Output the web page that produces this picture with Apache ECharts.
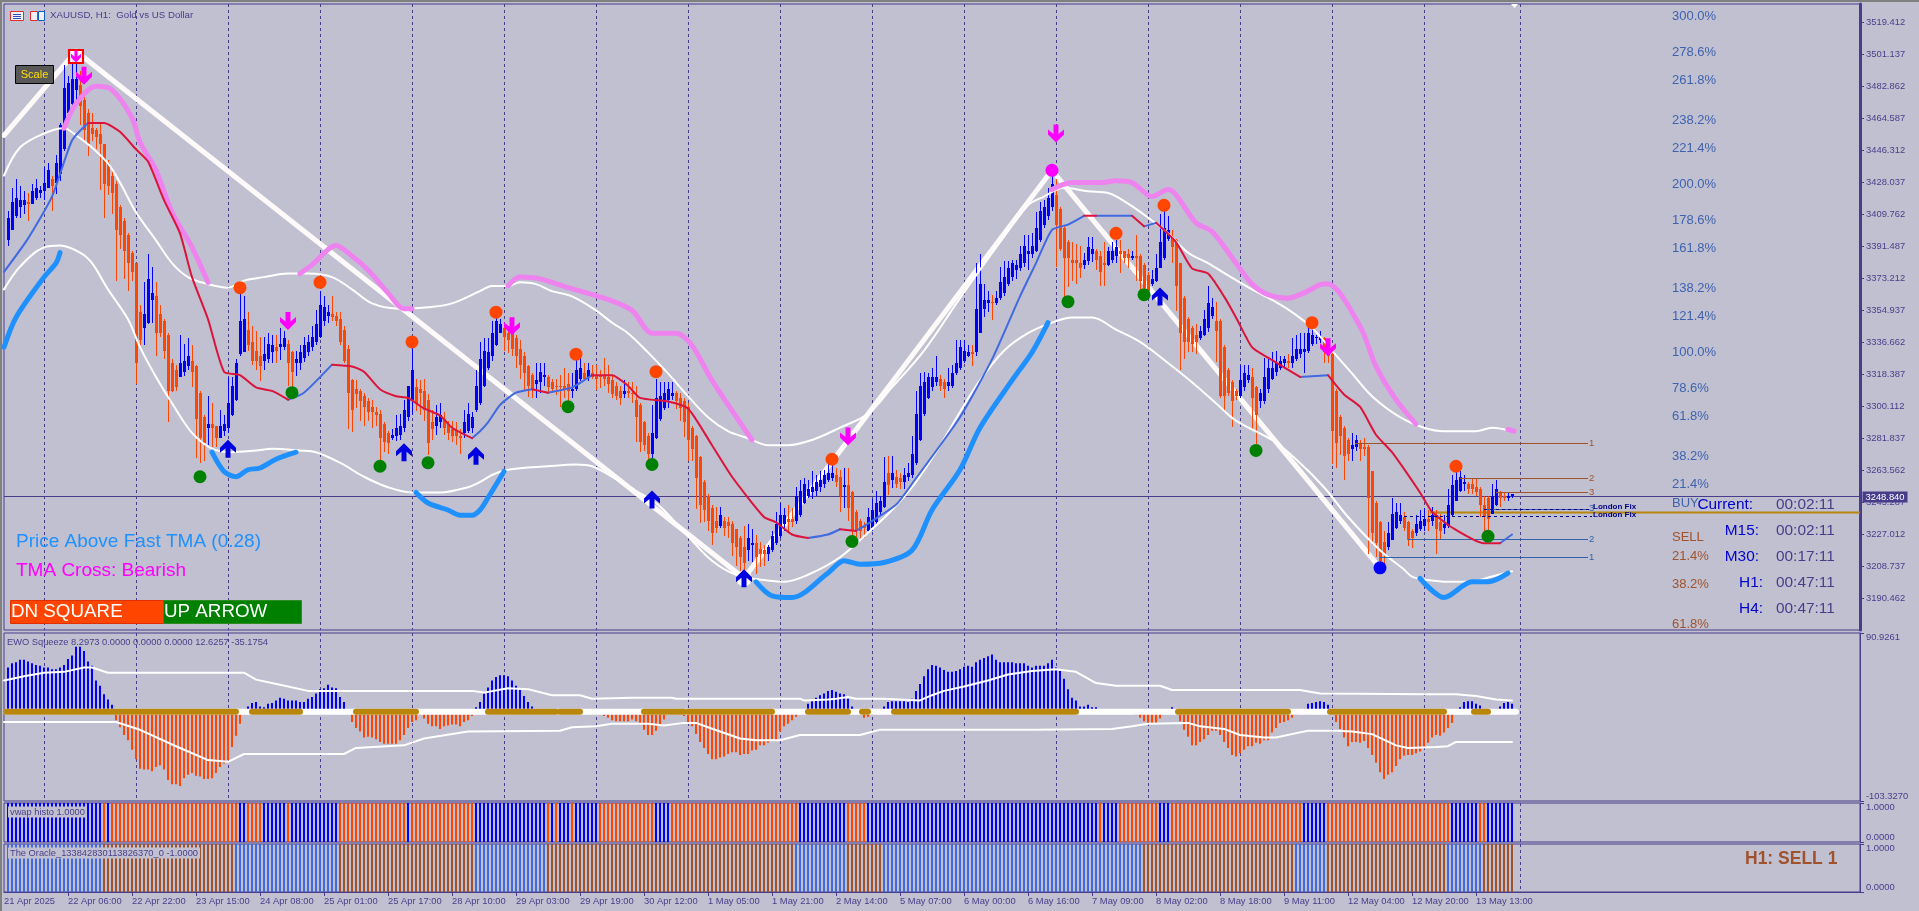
<!DOCTYPE html>
<html><head><meta charset="utf-8"><title>XAUUSD H1</title>
<style>html,body{margin:0;padding:0;background:#C0C0D0;overflow:hidden}#c{width:1919px;height:911px}</style>
<script src="https://cdn.jsdelivr.net/npm/echarts@6/dist/echarts.min.js"></script></head>
<body><div id="c"></div><script>
const timeLabels=['21 Apr 2025','22 Apr 06:00','22 Apr 22:00','23 Apr 15:00','24 Apr 08:00','25 Apr 01:00','25 Apr 17:00','28 Apr 10:00','29 Apr 03:00','29 Apr 19:00','30 Apr 12:00','1 May 05:00','1 May 21:00','2 May 14:00','5 May 07:00','6 May 00:00','6 May 16:00','7 May 09:00','8 May 02:00','8 May 18:00','9 May 11:00','12 May 04:00','12 May 20:00','13 May 13:00'];
const priceTicks=[3519.412,3501.137,3482.862,3464.587,3446.312,3428.037,3409.762,3391.487,3373.212,3354.937,3336.662,3318.387,3300.112,3281.837,3263.562,3245.287,3227.012,3208.737,3190.462];
const periodBars=[10,33,56,79,102,125,148,171,194,217,240,263,286,309,332,355,379];
const opens=[3395,3401,3409,3414,3415,3417,3416,3419,3422,3423,
3425,3430,3428,3433,3447,3468,3473,3481,3484,3475,
3468,3459,3458,3456,3450,3439,3432,3427,3414,3406,
3398,3388,3382,3354,3345,3348,3361,3363,3353,3349,
3341,3325,3321,3317,3320,3323,3326,3323,3308,3294,
3288,3290,3289,3282,3286,3288,3295,3304,3330,3331,
3344,3337,3332,3329,3326,3327,3331,3334,3334,3334,
3336,3331,3325,3325,3328,3331,3334,3337,3340,3349,
3352,3353,3352,3350,3344,3333,3315,3310,3309,3306,
3303,3300,3297,3296,3290,3285,3282,3283,3284,3288,
3294,3304,3311,3310,3309,3304,3291,3289,3291,3293,
3290,3287,3286,3283,3285,3286,3288,3298,3302,3312,
3322,3329,3335,3342,3345,3342,3342,3339,3333,3329,
3323,3318,3313,3314,3317,3317,3314,3312,3312,3312,
3313,3309,3310,3316,3319,3317,3319,3318,3318,3318,
3317,3315,3312,3309,3307,3309,3308,3304,3301,3291,
3283,3273,3282,3293,3299,3304,3306,3308,3305,3303,
3300,3288,3283,3271,3257,3249,3242,3235,3232,3235,
3234,3233,3230,3225,3220,3218,3221,3222,3219,3218,
3216,3218,3222,3226,3233,3236,3236,3235,3238,3245,
3249,3251,3252,3254,3256,3258,3259,3261,3260,3254,
3255,3251,3240,3235,3232,3229,3231,3234,3240,3243,
3262,3258,3260,3259,3257,3260,3261,3268,3281,3296,
3305,3311,3314,3316,3314,3312,3312,3319,3322,3326,
3329,3331,3331,3342,3356,3359,3360,3359,3362,3365,
3370,3374,3378,3379,3382,3387,3387,3389,3395,3404,
3409,3414,3421,3413,3402,3394,3384,3384,3382,3381,
3383,3387,3389,3386,3382,3381,3384,3386,3389,3389,
3387,3385,3386,3386,3381,3375,3370,3372,3379,3385,
3396,3397,3395,3382,3362,3350,3345,3341,3339,3341,
3345,3352,3349,3349,3334,3321,3314,3309,3306,3311,
3315,3317,3311,3303,3303,3310,3316,3320,3322,3325,
3326,3325,3327,3330,3331,3332,3336,3339,3338,3339,
3334,3330,3309,3294,3288,3281,3276,3277,3279,3277,
3277,3263,3245,3234,3223,3220,3224,3231,3235,3237,
3234,3229,3228,3230,3232,3236,3235,3238,3234,3231,
3232,3238,3246,3252,3256,3256,3256,3254,3253,3244,
3248,3239,3244,3251,3249,3248,3249];
const highs=[3412,3425,3430,3426,3423,3422,3427,3430,3426,3437,
3439,3432,3444,3462,3495,3489,3500,3501,3492,3481,
3470,3468,3459,3462,3450,3441,3435,3429,3415,3408,
3399,3389,3382,3358,3371,3387,3380,3371,3358,3350,
3342,3327,3324,3341,3336,3339,3335,3324,3309,3295,
3306,3302,3289,3298,3295,3317,3317,3327,3365,3363,
3354,3346,3343,3340,3340,3342,3341,3341,3345,3343,
3338,3332,3332,3335,3340,3341,3346,3355,3366,3363,
3358,3363,3354,3354,3346,3335,3316,3315,3310,3308,
3305,3304,3300,3298,3291,3286,3287,3295,3296,3304,
3312,3335,3316,3315,3316,3307,3298,3301,3302,3297,
3292,3292,3291,3287,3298,3302,3297,3321,3337,3339,
3339,3349,3353,3350,3348,3345,3343,3341,3338,3331,
3324,3319,3325,3325,3325,3318,3316,3316,3318,3322,
3319,3319,3328,3328,3325,3325,3324,3324,3321,3328,
3324,3318,3314,3312,3315,3314,3314,3312,3302,3292,
3285,3301,3316,3314,3314,3314,3314,3309,3308,3305,
3302,3289,3284,3272,3258,3250,3244,3243,3243,3237,
3237,3235,3230,3226,3232,3233,3230,3227,3223,3221,
3221,3229,3240,3245,3242,3244,3242,3254,3258,3259,
3258,3263,3261,3263,3264,3267,3268,3265,3264,3265,
3265,3252,3241,3236,3234,3242,3247,3252,3249,3271,
3272,3272,3264,3262,3265,3268,3283,3309,3319,3320,
3319,3322,3329,3318,3316,3322,3324,3338,3338,3338,
3335,3335,3382,3387,3370,3366,3364,3366,3380,3383,
3383,3384,3384,3392,3398,3398,3399,3411,3417,3418,
3425,3432,3430,3414,3403,3395,3394,3393,3392,3388,
3397,3397,3390,3389,3394,3391,3394,3395,3395,3389,
3390,3389,3398,3387,3382,3377,3378,3387,3410,3412,
3409,3401,3396,3382,3363,3351,3346,3347,3346,3355,
3369,3362,3360,3350,3335,3322,3315,3310,3324,3324,
3324,3322,3312,3310,3328,3328,3331,3332,3329,3329,
3330,3339,3341,3342,3342,3345,3345,3341,3343,3340,
3335,3331,3310,3295,3289,3282,3285,3284,3281,3282,
3278,3263,3246,3235,3229,3234,3248,3245,3245,3240,
3235,3230,3238,3241,3242,3241,3243,3241,3239,3238,
3253,3261,3265,3263,3261,3257,3259,3259,3254,3249,
3249,3256,3258,3252,3251,3251,3250];
const lows=[3392,3401,3408,3408,3410,3406,3416,3418,3419,3418,
3425,3412,3422,3429,3446,3466,3472,3475,3461,3452,
3443,3452,3447,3424,3408,3421,3410,3372,3390,3373,
3366,3372,3313,3335,3335,3347,3348,3329,3340,3327,
3291,3308,3309,3317,3318,3321,3311,3271,3268,3269,
3278,3277,3277,3282,3283,3285,3295,3303,3329,3331,
3332,3324,3321,3315,3321,3325,3325,3325,3327,3332,
3312,3309,3318,3321,3326,3329,3332,3335,3339,3346,
3348,3349,3346,3335,3325,3287,3286,3299,3292,3289,
3292,3288,3289,3268,3274,3273,3281,3280,3281,3286,
3292,3295,3298,3295,3292,3272,3281,3284,3288,3284,
3281,3280,3278,3273,3282,3285,3285,3297,3301,3311,
3321,3326,3335,3342,3332,3331,3329,3322,3316,3309,
3306,3305,3305,3308,3312,3308,3308,3307,3300,3305,
3302,3305,3309,3315,3315,3315,3316,3310,3311,3312,
3308,3305,3304,3301,3305,3305,3302,3280,3274,3275,
3269,3271,3282,3292,3298,3299,3304,3299,3292,3283,
3269,3269,3242,3234,3234,3229,3221,3228,3231,3226,
3225,3215,3209,3205,3205,3212,3211,3205,3209,3209,
3212,3217,3221,3225,3229,3228,3231,3233,3237,3244,
3248,3247,3249,3251,3254,3257,3258,3254,3240,3242,
3235,3224,3224,3224,3225,3228,3229,3232,3238,3242,
3250,3254,3254,3253,3253,3258,3259,3267,3280,3295,
3304,3309,3312,3309,3305,3309,3311,3318,3321,3325,
3328,3323,3329,3342,3351,3354,3350,3358,3361,3363,
3369,3372,3373,3378,3380,3378,3385,3388,3394,3402,
3407,3412,3380,3389,3362,3368,3372,3370,3374,3379,
3381,3383,3378,3369,3369,3380,3382,3382,3376,3382,
3379,3384,3372,3366,3366,3365,3369,3371,3379,3384,
3395,3382,3355,3321,3327,3331,3331,3330,3338,3340,
3343,3350,3326,3305,3298,3306,3288,3304,3305,3309,
3314,3287,3279,3299,3302,3308,3315,3318,3321,3322,
3322,3322,3326,3328,3319,3331,3335,3336,3336,3325,
3325,3267,3265,3272,3258,3269,3269,3275,3269,3272,
3216,3221,3214,3209,3210,3218,3224,3230,3233,3229,
3221,3219,3226,3229,3229,3229,3232,3216,3224,3227,
3231,3237,3246,3251,3252,3250,3250,3249,3237,3226,
3225,3239,3243,3243,3246,3246,3248];
const closes=[3408,3417,3419,3418,3418,3416,3423,3425,3424,3428,
3435,3426,3439,3461,3482,3485,3487,3487,3472,3458,
3450,3456,3454,3450,3427,3426,3422,3401,3398,3389,
3382,3377,3325,3338,3353,3373,3365,3342,3342,3332,
3309,3309,3311,3325,3326,3329,3320,3293,3282,3279,
3290,3288,3282,3289,3290,3302,3312,3325,3349,3350,
3335,3326,3326,3323,3330,3336,3335,3332,3336,3339,
3325,3320,3327,3331,3335,3337,3340,3347,3358,3357,
3354,3351,3349,3337,3326,3308,3298,3307,3303,3300,
3297,3297,3295,3282,3280,3279,3284,3288,3289,3298,
3312,3321,3302,3308,3298,3279,3287,3294,3295,3288,
3285,3283,3283,3282,3291,3296,3294,3312,3327,3332,
3331,3342,3349,3347,3340,3338,3333,3329,3324,3319,
3312,3310,3315,3320,3318,3311,3310,3311,3311,3310,
3309,3310,3321,3322,3316,3321,3317,3316,3317,3316,
3313,3307,3306,3305,3309,3308,3307,3294,3280,3278,
3273,3285,3305,3306,3308,3310,3308,3303,3299,3291,
3281,3276,3259,3244,3241,3235,3228,3231,3238,3231,
3232,3222,3220,3214,3211,3225,3222,3214,3216,3216,
3220,3226,3233,3238,3238,3234,3234,3249,3252,3256,
3253,3254,3257,3258,3261,3262,3262,3257,3249,3255,
3242,3229,3229,3229,3231,3237,3241,3245,3246,3257,
3255,3262,3256,3257,3261,3262,3273,3296,3312,3314,
3317,3317,3317,3312,3310,3314,3319,3325,3334,3332,
3331,3330,3356,3370,3361,3361,3359,3362,3371,3374,
3379,3382,3381,3387,3392,3389,3392,3402,3412,3414,
3419,3427,3404,3390,3385,3385,3382,3382,3379,3384,
3391,3390,3384,3377,3381,3389,3389,3391,3387,3385,
3385,3386,3385,3372,3368,3366,3373,3379,3394,3402,
3401,3391,3369,3342,3337,3337,3336,3337,3343,3350,
3359,3357,3343,3306,3306,3308,3303,3306,3315,3319,
3318,3305,3295,3308,3317,3322,3322,3325,3326,3327,
3325,3329,3333,3333,3333,3342,3341,3340,3340,3331,
3329,3286,3279,3283,3272,3273,3278,3281,3276,3276,
3248,3228,3222,3212,3216,3228,3239,3240,3238,3231,
3224,3225,3233,3235,3236,3234,3238,3230,3229,3233,
3244,3255,3258,3260,3257,3253,3253,3251,3244,3237,
3236,3249,3253,3248,3248,3249,3250];
const zigzag=[[0,3455],[18,3503],[185,3202],[262,3435],[344,3208]];
const upperBand=[[0,3432],[4,3448],[10,3456],[15,3459],[18,3455],[22,3448],[26,3439],[29,3428],[33,3411],[38,3395],[42,3382],[46,3374],[51,3370],[56,3368],[60,3372],[65,3374],[71,3376],[76,3376],[82,3374],[87,3367],[92,3359],[99,3356],[107,3357],[112,3359],[119,3366],[122,3369],[126,3369],[129,3371],[133,3370],[137,3366],[142,3363],[148,3355],[152,3348],[156,3342],[161,3331],[166,3319],[171,3306],[176,3294],[181,3286],[186,3282],[191,3278],[196,3278],[202,3281],[209,3288],[216,3296],[222,3311],[230,3332],[239,3362],[249,3394],[256,3415],[260,3420],[265,3425],[271,3423],[276,3422],[281,3416],[286,3408],[291,3399],[296,3388],[301,3382],[306,3375],[312,3367],[317,3361],[322,3354],[327,3345],[332,3332],[337,3319],[342,3306],[349,3294],[355,3288],[360,3286],[368,3286],[372,3288],[377,3286]];
const lowerBand=[[0,3367],[4,3380],[10,3391],[14,3392],[19,3388],[22,3382],[26,3367],[31,3350],[34,3334],[38,3317],[42,3302],[47,3285],[52,3276],[57,3274],[63,3275],[67,3276],[74,3275],[78,3274],[84,3268],[90,3260],[96,3254],[102,3251],[109,3251],[116,3254],[119,3257],[122,3261],[126,3264],[136,3266],[143,3267],[147,3266],[152,3260],[158,3252],[164,3243],[171,3226],[177,3212],[183,3204],[190,3201],[195,3200],[201,3204],[209,3214],[216,3228],[222,3241],[227,3254],[233,3274],[239,3297],[244,3315],[250,3332],[256,3342],[262,3348],[267,3351],[272,3351],[278,3344],[284,3337],[291,3325],[297,3314],[303,3302],[308,3292],[317,3281],[323,3270],[330,3254],[336,3237],[344,3218],[350,3207],[352,3203],[356,3201],[361,3200],[366,3200],[372,3203],[377,3206]];
const bearishEnvelope=[
[[15,3459],[18,3473],[23,3483],[27,3481],[32,3465],[34,3451],[38,3435],[42,3411],[47,3391],[51,3371]],
[[74,3376],[77,3381],[83,3392],[87,3386],[91,3378],[96,3365],[100,3356],[102,3356]],
[[126,3369],[129,3374],[134,3373],[141,3368],[150,3362],[157,3355],[162,3342],[168,3342],[172,3335],[177,3315],[187,3281]],
[[262,3424],[267,3428],[274,3428],[278,3429],[282,3428],[287,3420],[291,3424],[293,3421],[298,3405],[302,3400],[308,3382],[312,3370],[316,3364],[321,3362],[325,3365],[330,3370],[331,3370],[339,3346],[343,3323],[348,3304],[353,3290]],
[[376,3287],[377.5,3286]]];
const bullishEnvelope=[
[[0,3334],[3,3351],[10,3374],[13,3382],[14,3388]],
[[52,3274],[55,3263],[58,3260],[61,3264],[64,3265],[68,3270],[73,3274]],
[[103,3251],[106,3245],[111,3241],[114,3238],[117,3238],[119,3241],[121,3248],[125,3263]],
[[188,3200],[192,3192],[197,3191],[206,3205],[210,3212],[214,3210],[220,3211],[227,3218],[232,3241],[239,3264],[244,3288],[252,3315],[257,3331],[261,3348]],
[[354,3202],[360,3191],[367,3200],[371,3200],[376,3205]]];
const fastUp=[
[[0,3377],[6,3396],[12,3420],[17,3452],[21,3462]],
[[71,3304],[75,3308],[82,3324]],
[[117,3282],[119,3286],[121,3291],[124,3301],[128,3308],[132,3310]],
[[136,3308],[142,3311],[147,3318]],
[[201,3225],[206,3227],[209,3230]],
[[213,3229],[223,3244],[227,3256],[239,3294],[247,3327],[254,3363],[258,3382],[262,3401],[266,3404],[270,3409]],
[[273,3409],[282,3409]],
[[285,3403],[288,3405]],
[[324,3317],[331,3318]],
[[374,3222],[377,3227]]];
const fastDown=[
[[21,3462],[25,3462],[29,3457],[33,3447],[36,3440],[40,3418],[44,3399],[47,3374],[51,3350],[55,3320],[59,3318],[63,3311],[67,3309],[71,3304]],
[[82,3324],[87,3323],[90,3320],[94,3310],[98,3306],[101,3305],[105,3299],[109,3295],[112,3288],[117,3282]],
[[132,3310],[136,3308]],
[[147,3318],[152,3318],[156,3312],[159,3305],[166,3303],[171,3299],[177,3278],[182,3260],[190,3237],[193,3234],[197,3227],[201,3225]],
[[209,3230],[213,3229]],
[[270,3409],[273,3409]],
[[282,3409],[285,3403]],
[[288,3405],[293,3394],[297,3379],[301,3376],[305,3363],[308,3351],[312,3334],[316,3328],[324,3317]],
[[331,3318],[335,3307],[339,3300],[343,3284],[347,3274],[354,3251],[357,3240],[362,3231],[370,3222],[374,3222]]];
const orangeDots=[[59,3368],[79,3371],[102,3337],[123,3354],[143,3330],[163,3320],[207,3270],[278,3399],[290,3415],[327,3348],[363,3266]];
const greenDots=[[49,3260],[72,3308],[94,3266],[106,3268],[141,3300],[162,3267],[212,3223],[266,3360],[285,3364],[313,3275],[371,3226]];
const magentaDots=[[262,3435]];
const blueDots=[[344,3208]];
const whiteDots=[[185,3202]];
const sellArrows=[[20,3489],[71,3349],[127,3346],[211,3283],[263,3456],[331,3334]];
const buyArrows=[[56,3276],[100,3274],[118,3272],[162,3247],[185,3202],[289,3363]];
const signalSquare=[[18,3500]];
const currentPrice=3248.84;
const goldLevel=[[356.5,464,3240]];
const priceLine=[[0,464,currentPrice]];
const resistanceLevels=[[337.75,396,3279],[364,396,3259],[373,396,3251]];
const supportLevels=[[344,396,3214],[351,396,3224.5],[370,396,3241.5]];
const londonFix=[[370,397,3241.5],[350,397,3237.5]];
const ewo=[51,56,57,60,60,58,56,54,53,51,
51,49,49,51,54,61,65,75,75,70,
58,53,36,30,20,14,8,-10,-18,-27,
-33,-44,-55,-66,-67,-67,-69,-64,-62,-67,
-79,-84,-84,-86,-77,-73,-71,-74,-75,-78,
-78,-77,-71,-64,-60,-56,-41,-28,-14,0,
6,10,11,6,5,9,10,13,16,15,
13,13,13,11,11,15,17,21,26,27,
31,28,27,17,11,0,-12,-19,-23,-30,
-29,-30,-32,-35,-37,-37,-37,-37,-33,-27,
-19,-12,-10,-4,-8,-14,-17,-17,-20,-17,
-16,-15,-15,-17,-12,-10,-5,5,11,21,
28,36,40,42,42,41,36,30,25,18,
11,6,3,3,2,2,1,1,1,0,
0,0,0,0,0,0,0,0,0,-5,
-7,-10,-11,-11,-11,-11,-9,-11,-15,-21,
-27,-27,-22,-15,-9,0,0,0,0,-5,
-12,-17,-26,-35,-42,-49,-55,-55,-53,-52,
-49,-47,-47,-50,-49,-49,-45,-44,-39,-39,
-36,-32,-33,-23,-17,-14,-10,-6,0,0,
9,12,16,19,21,24,25,23,21,20,
15,6,0,0,-7,-6,-4,0,0,6,
11,12,12,12,12,11,15,24,32,41,
49,54,53,51,48,46,46,47,49,52,
53,52,57,60,62,64,66,60,57,57,
57,57,56,56,56,53,51,53,53,53,
56,60,51,47,38,26,16,13,6,6,
8,5,5,0,0,0,0,0,0,0,
0,0,-4,-7,-11,-13,-13,-13,-8,0,
0,5,0,-11,-21,-29,-39,-39,-35,-32,
-27,-22,-22,-27,-35,-42,-50,-52,-48,-44,
-40,-40,-36,-37,-33,-33,-24,-19,-13,-12,
-10,-7,-4,0,0,9,10,11,12,11,
8,0,-12,-20,-30,-40,-35,-35,-36,-34,
-42,-50,-59,-70,-78,-73,-70,-63,-55,-51,
-50,-50,-48,-46,-42,-36,-30,-27,-28,-24,
-19,-13,0,5,11,12,12,9,7,0,
0,0,0,6,10,11,9];
const ewoUpper=[[0,36],[5,41],[10,45],[15,46],[20,51],[22,51],[26,45],[60,45],[63,37],[69,31],[76,24],[117,24],[120,22],[126,27],[131,26],[137,19],[144,19],[147,15],[157,16],[167,16],[168,15],[199,15],[200,13],[206,14],[208,15],[211,17],[213,15],[220,15],[220,13],[229,13],[232,19],[235,24],[240,29],[246,36],[251,43],[257,47],[263,49],[268,46],[273,33],[278,30],[289,30],[292,25],[324,25],[329,21],[356,20],[363,20],[368,18],[373,14],[377,13]];
const ewoLower=[[0,-12],[28,-12],[34,-21],[43,-40],[51,-56],[56,-58],[60,-49],[85,-49],[88,-42],[100,-39],[105,-31],[116,-23],[139,-22],[142,-18],[148,-17],[152,-14],[157,-14],[161,-14],[165,-16],[170,-13],[173,-13],[176,-18],[179,-23],[184,-31],[188,-33],[194,-33],[199,-27],[214,-27],[218,-22],[219,-21],[257,-21],[277,-20],[282,-17],[286,-14],[296,-13],[299,-17],[305,-20],[309,-27],[315,-30],[318,-30],[324,-24],[326,-22],[333,-22],[337,-23],[342,-26],[348,-39],[351,-42],[358,-41],[361,-40],[363,-35],[377,-35]];
const squeezeOff=[[0.5,378]];
const squeezeOn=[[0.5,58],[62,74],[88,103],[121,138],[139,144],[160,170],[171,192],[201,211],[214.5,216],[222.5,268],[293.5,321],[331.5,360],[367.5,371]];
const vwapRuns=[24,1,1,32,2,4,6,1,12,17,1,16,18,1,1,1,3,1,6,14,4,32,12,5,58,1,4,10,3,33,6,31,7,2,7];
const oracleRuns=[24,33,26,34,18,62,13,9,65,38,8,30,9,8];

const INK='#483D8B',BLUE='#0000FF',ORANGE='#FF4500',FONT='"Liberation Sans",Arial,sans-serif';
const barAxis=i=>i+1;
const expand=r=>{const o=[];r.forEach((n,k)=>{for(let j=0;j<n;j++)o.push([barAxis(o.length),k%2?0:1]);});return o;};
const joined=s=>{const o=[];s.forEach((g,k)=>{if(k)o.push([null,null]);o.push(...g);});return o;};
const rect=(x,y,w,h,fill)=>({type:'rect',shape:{x,y,width:w,height:h},style:{fill}});

function candleItem(p,api){
 const v=api.value(0),o=api.value(1),h=api.value(2),l=api.value(3),c=api.value(4);
 const x=Math.round(api.coord([v,o])[0]),col=c>=o?BLUE:ORANGE;
 const yh=api.coord([v,h])[1],yl=api.coord([v,l])[1],yo=api.coord([v,o])[1],yc=api.coord([v,c])[1];
 const t=Math.round(Math.min(yo,yc)),b=Math.round(Math.max(yo,yc));
 return {type:'group',children:[rect(x,Math.round(yh),1,Math.max(1,Math.round(yl-yh)),col),rect(x-1,t,3,Math.max(1,b-t),col)]};
}
function stripeItem(up,down){return (p,api)=>{
 const v=api.value(0),x=Math.round(api.coord([v,0])[0]),a=api.coord([v,1])[1],b=api.coord([v,0])[1];
 return rect(x-1,a,2,b-a,api.value(1)?up:down);};}
function ewoItem(p,api){
 const v=api.value(0),e=api.value(1);if(!e)return null;
 const x=Math.round(api.coord([v,0])[0]),z=api.coord([v,0])[1],y=api.coord([v,e])[1];
 return rect(x-1,Math.min(y,z),2,Math.abs(y-z),e>0?BLUE:ORANGE);
}
const lineSeries=(name,data,color,width,grid,z,smooth)=>({name,type:'line',data,xAxisIndex:grid,yAxisIndex:grid,showSymbol:false,symbol:'none',silent:true,z,connectNulls:false,smooth:smooth||false,lineStyle:{color,width,cap:'round',join:'round'}});
const periodSeries=g=>({type:'custom',xAxisIndex:g,yAxisIndex:g,z:1,silent:true,clip:true,data:periodBars.map(v=>[v]),encode:{x:0},
 renderItem:(p,api)=>{const x=Math.round(api.coord([api.value(0),0])[0])+.5,cs=p.coordSys;
  return {type:'line',shape:{x1:x,y1:cs.y,x2:x,y2:cs.y+cs.height},style:{stroke:INK,lineWidth:1,lineDash:[3,3]}};}});
const levelSeries=(rows,color,width,dash,z)=>({type:'custom',xAxisIndex:0,yAxisIndex:0,z,silent:true,data:rows,encode:{x:[0,1],y:2},
 renderItem:(p,api)=>{const y=api.value(2),a=api.coord([api.value(0),y]),b=api.coord([api.value(1),y]),yy=Math.round(a[1])+.5;
  return {type:'line',shape:{x1:a[0],y1:yy,x2:b[0],y2:yy},style:{stroke:color,lineWidth:width,lineDash:dash||null}};}});
const DOWN_ARROW='path://M5.5,0 L10.5,0 L10.5,9.5 L16,5 L16,10 L8,18 L0,10 L0,5 L5.5,9.5 Z';
const UP_ARROW='path://M8,0 L16,8 L16,13 L10.5,8.5 L10.5,18 L5.5,18 L5.5,8.5 L0,13 L0,8 Z';
const marks=(data,symbol,size,color,z,extra)=>({type:'scatter',xAxisIndex:0,yAxisIndex:0,data,symbol,symbolSize:size,z,silent:true,itemStyle:Object.assign({color,opacity:1},extra||{})});

const series=[
 periodSeries(0),periodSeries(1),periodSeries(2),periodSeries(3),
 lineSeries('ZigZag',zigzag,'#FFFAFA',5,0,2),
 levelSeries(priceLine,INK,1,null,2),
 levelSeries(goldLevel,'#B8860B',2,null,3),
 {type:'custom',name:'XAUUSD',xAxisIndex:0,yAxisIndex:0,z:4,silent:true,renderItem:candleItem,encode:{x:0,y:[1,2,3,4]},
  data:closes.map((c,i)=>[barAxis(i),opens[i],highs[i],lows[i],c])},
 lineSeries('Upper band',upperBand,'#FFFFFF',2,0,5,.35),
 lineSeries('Lower band',lowerBand,'#FFFFFF',2,0,5,.35),
 lineSeries('Bearish envelope',joined(bearishEnvelope),'#EE82EE',5,0,6,.3),
 lineSeries('Bullish envelope',joined(bullishEnvelope),'#1E90FF',5,0,6,.3),
 lineSeries('Fast TMA up',joined(fastUp),'#4169E1',2,0,7,.2),
 lineSeries('Fast TMA down',joined(fastDown),'#DC143C',2,0,7,.2),
 levelSeries(resistanceLevels,'#A0522D',1,null,7),
 levelSeries(supportLevels,'#2F62A8',1,null,7),
 levelSeries(londonFix,'#00008B',1,[3,3],8),
 marks(whiteDots,'circle',16,'#FFFFFF',8),
 marks(orangeDots,'circle',13,ORANGE,9),
 marks(greenDots,'circle',13,'#008000',9),
 marks(magentaDots,'circle',13,'#FF00FF',9),
 marks(blueDots,'circle',13,BLUE,9),
 marks(sellArrows,DOWN_ARROW,[16,18],'#FF00FF',10),
 marks(buyArrows,UP_ARROW,[16,18],'#0000E0',10),
 marks(signalSquare,'rect',[14,13],'rgba(255,240,250,.9)',10,{borderColor:'#FF0000',borderWidth:2}),
 marks(signalSquare,DOWN_ARROW,[10,12],'#FF00FF',11),
 {type:'custom',name:'EWO Squeeze',xAxisIndex:1,yAxisIndex:1,z:3,silent:true,renderItem:ewoItem,encode:{x:0,y:1},data:ewo.map((e,i)=>[barAxis(i),e])},
 lineSeries('Squeeze off',joined(squeezeOff.map(s=>[[s[0],0],[s[1],0]])),'#FFFFFF',6,1,4),
 lineSeries('Squeeze on',joined(squeezeOn.map(s=>[[s[0],0],[s[1],0]])),'#B8860B',6,1,5),
 lineSeries('EWO upper',ewoUpper,'#FFFFFF',2,1,6),
 lineSeries('EWO lower',ewoLower,'#FFFFFF',2,1,6),
 {type:'custom',name:'vwap histo',xAxisIndex:2,yAxisIndex:2,z:3,silent:true,renderItem:stripeItem(BLUE,ORANGE),encode:{x:0},data:expand(vwapRuns)},
 {type:'custom',name:'The Oracle',xAxisIndex:3,yAxisIndex:3,z:3,silent:true,renderItem:stripeItem('#4169E1','#A0522D'),encode:{x:0},data:expand(oracleRuns)}
];

const grids=[{left:4,top:4,width:1856,height:626},{left:4,top:633,width:1856,height:168},{left:4,top:803,width:1856,height:39},{left:4,top:844,width:1856,height:48}]
 .map(g=>Object.assign(g,{show:true,borderColor:INK,borderWidth:1,backgroundColor:'transparent',containLabel:false}));
const hiddenX=g=>({type:'value',gridIndex:g,min:0,max:464,show:false,splitLine:{show:false}});
const tickBars=timeLabels.map((_,k)=>k*16);
const xAxes=[hiddenX(0),hiddenX(1),hiddenX(2),{type:'value',gridIndex:3,min:0,max:464,position:'bottom',
 axisLine:{show:true,onZero:false,lineStyle:{color:INK,width:1}},splitLine:{show:false},
 axisTick:{show:true,length:4,lineStyle:{color:INK},customValues:tickBars.slice(1)},
 axisLabel:{customValues:tickBars,formatter:v=>timeLabels[Math.round(v/16)]||'',align:'left',margin:5,color:INK,fontFamily:FONT,fontSize:9.4,hideOverlap:false,showMinLabel:true,showMaxLabel:true}}];
const yLabel=(vals,fmt,edge)=>Object.assign({customValues:vals,formatter:fmt,margin:6,color:INK,fontFamily:FONT,fontSize:9.4,showMinLabel:true,showMaxLabel:true},edge?{verticalAlignMinLabel:'bottom',verticalAlignMaxLabel:'top'}:{});
const yAxis=(g,min,max,vals,fmt,lw,edge)=>({type:'value',gridIndex:g,min,max,position:'right',scale:true,splitLine:{show:false},
 axisLine:{show:true,onZero:false,lineStyle:{color:INK,width:lw}},axisTick:{show:true,length:4,lineStyle:{color:INK},customValues:vals},axisLabel:yLabel(vals,fmt,edge)});
const yAxes=[
 yAxis(0,3172.47,3529.98,priceTicks,v=>v.toFixed(3),3,false),
 yAxis(1,-103.327,90.9261,[-103.327,90.9261],v=>v.toFixed(4),1,true),
 yAxis(2,0,1,[0,1],v=>v.toFixed(4),1,true),
 yAxis(3,0,1,[0,1],v=>v.toFixed(4),1,true)];

const T=(text,x,y,fill,font,align,bg)=>({type:'text',z:50,silent:true,style:Object.assign({text,x,y,fill,font,textAlign:align||'left',textVerticalAlign:'middle'},bg?{backgroundColor:bg,padding:[1,2]}:{})});
const R=(x,y,w,h,fill,stroke,lw,z)=>({type:'rect',z:z||49,silent:true,shape:{x,y,width:w,height:h},style:{fill,stroke:stroke||null,lineWidth:lw||0}});
const FIB='#3F62AE',SELLC='#A0522D',f13='13px '+FONT,f15='15.4px '+FONT,f9='9.5px '+FONT,f10='9.4px '+FONT;
const graphics=[
 R(0,0,1919,2,'#808080'),R(0,0,2,911,'#808080'),
 R(10.5,11.5,13,9,'#F0F0F8','#E03030',1),R(13,14,8,1,'#3050C0'),R(13,16,8,1,'#3050C0'),R(13,18,8,1,'#3050C0'),
 R(30.5,11.5,7,9,'#F0F0F8','#E03030',1),R(38.5,11.5,6,9,'#F0F0F8','#1060C0',1),
 T('XAUUSD, H1:  Gold vs US Dollar',50,15.5,INK,'9.7px '+FONT),
 R(15.5,65.5,38,18,'#585858','#000000',1),T('Scale',34.5,75,'#FFE000','11px '+FONT,'center'),
 T('Price Above Fast TMA (0.28)',16,541.5,'#1E90FF','19px '+FONT),
 T('TMA Cross: Bearish',16,571,'#FF00FF','19px '+FONT),
 R(10.5,600.5,153,23,ORANGE,'#E03000',1),R(163.5,600.5,138,23,'#008000','#2E8B22',1),
 T('DN SQUARE',11,611.5,'#FFFFFF','18.8px '+FONT),T('UP ARROW',164,611.5,'#FFFFFF','18.8px '+FONT),
 T('300.0%',1672,16,FIB,f13),T('278.6%',1672,52.5,FIB,f13),T('261.8%',1672,80,FIB,f13),T('238.2%',1672,120,FIB,f13),
 T('221.4%',1672,148,FIB,f13),T('200.0%',1672,184,FIB,f13),T('178.6%',1672,220,FIB,f13),T('161.8%',1672,248,FIB,f13),
 T('138.2%',1672,288,FIB,f13),T('121.4%',1672,316,FIB,f13),T('100.0%',1672,352,FIB,f13),T('78.6%',1672,388,FIB,f13),
 T('61.8%',1672,416,FIB,f13),T('38.2%',1672,456,FIB,f13),T('21.4%',1672,484,FIB,f13),T('BUY',1672,503,FIB,f13),
 T('SELL',1672,537,SELLC,f13),T('21.4%',1672,556,SELLC,f13),T('38.2%',1672,584,SELLC,f13),T('61.8%',1672,624,SELLC,f13),
 T('Current:',1753,505,'#0000CD',f15,'right'),T('M15:',1759,531,'#0000CD',f15,'right'),T('M30:',1759,557,'#0000CD',f15,'right'),
 T('H1:',1763,583,'#0000CD',f15,'right'),T('H4:',1763,609,'#0000CD',f15,'right'),
 T('00:02:11',1776,505,INK,f15),T('00:02:11',1776,531,INK,f15),T('00:17:11',1776,557,INK,f15),T('00:47:11',1776,583,INK,f15),T('00:47:11',1776,609,INK,f15),
 T('1',1589,443,SELLC,f9),T('2',1589,478,SELLC,f9),T('3',1589,492,SELLC,f9),T('2',1589,539,'#2F62A8',f9),T('1',1589,557,'#2F62A8',f9),T('3',1589,508,'#2F62A8',f9),
 T('London Fix',1593,507,'#00008B','bold 8px '+FONT),T('London Fix',1593,515,'#00008B','bold 8px '+FONT),
 R(1862.5,491.5,45,11,INK),T('3248.840',1885,497,'#FFFFFF',f10,'center'),
 {type:'polygon',z:49,silent:true,shape:{points:[[1511,4],[1518,4],[1514.5,8]]},style:{fill:'#FFFFFF'}},
 T('EWO Squeeze 8.2973 0.0000 0.0000 0.0000 12.6257 -35.1754',7,642,INK,'9.3px '+FONT),
 T('vwap histo 1.0000',8,812,INK,'9.3px '+FONT,'left','#C0C0D0'),
 T('The Oracle_133842830113826370_0 -1.0000',8,853,INK,'9.3px '+FONT,'left','#C0C0D0'),
 T('H1: SELL 1',1745,859,'#A0522D','bold 17.5px '+FONT)
];
const chart=echarts.init(document.getElementById('c'),null,{renderer:'canvas',width:1919,height:911});
chart.setOption({animation:false,backgroundColor:'#C0C0D0',tooltip:{show:false},legend:{show:false},grid:grids,xAxis:xAxes,yAxis:yAxes,series,graphic:graphics});
</script></body></html>
